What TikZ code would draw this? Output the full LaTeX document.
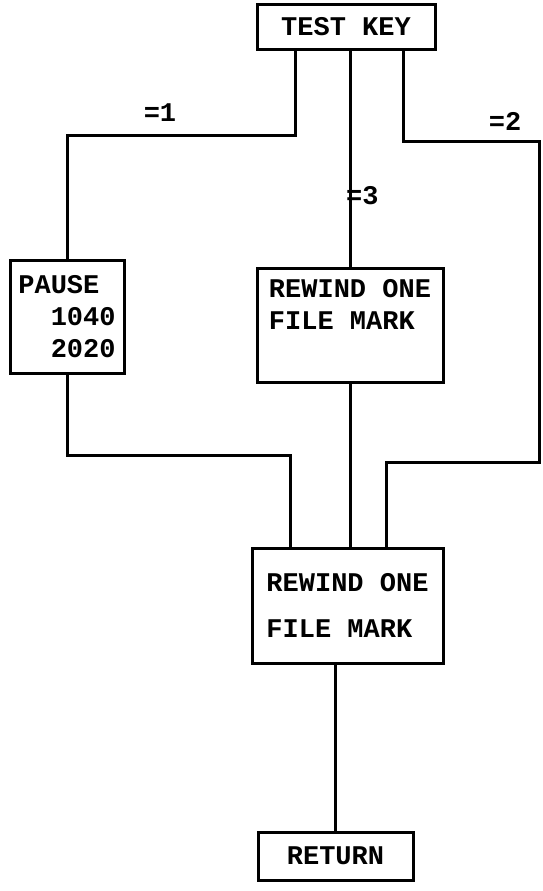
\documentclass[tikz,border=0pt]{standalone}
\usepackage{fontspec}
\newfontfamily\typewr{Liberation Mono}
\usetikzlibrary{positioning, calc}

\begin{document}
\begin{tikzpicture}[
    x=1pt, y=-1pt,
    stepbox/.style={draw, line width=3pt, inner sep=0pt, align=left,
                    font=\typewr\bfseries\fontsize{27}{32}\selectfont},
    flow/.style={line width=3pt},
    lbl/.style={font=\typewr\bfseries\fontsize{27}{32}\selectfont, inner sep=0pt}
]
    \useasboundingbox (0,0) rectangle (543,891);

    % Boxes
    \node[stepbox, minimum width=178pt, minimum height=45pt] (testkey) at (346,27) {TEST KEY};
    \node[stepbox, minimum width=114pt, minimum height=113pt] (pause) at (67,316.5)
        {PAUSE\\\phantom{PA}1040\\\phantom{PA}2020};
    \node[stepbox, minimum width=186pt, minimum height=114pt] (rew1) at (350,325)
        {REWIND ONE\\FILE MARK\\\strut};
    \node[stepbox, minimum width=191pt, minimum height=115pt] (rew2) at (347.5,605.5)
        {REWIND ONE\\[14pt]FILE MARK};
    \node[stepbox, minimum width=155pt, minimum height=48pt] (ret) at (335.5,856) {RETURN};

    % Branch points
    \coordinate (k1) at (295,135);
    \coordinate (k2) at (403,141);
    \coordinate (k2e) at (539,141);
    \coordinate (m1) at (290,455);
    \coordinate (m2) at (386,462);

    % Connecting lines
    \draw[flow] (k1 |- testkey.south) -- (k1) -| (pause.north);
    \draw[flow] (testkey.south -| rew1.north) -- (rew1.north);
    \draw[flow] (k2 |- testkey.south) -- (k2) -- (k2e) |- (m2) -- (m2 |- rew2.north);
    \draw[flow] (pause.south) |- (m1) -- (m1 |- rew2.north);
    \draw[flow] (rew1.south) -- (rew1.south |- rew2.north);
    \draw[flow] (rew2.south -| ret.north) -- (ret.north);

    % Key values
    \node[lbl] (lbl1) at (160,113) {=1};
    \node[lbl] (lbl2) at (505,121) {=2};
    \node[lbl, anchor=west] (lbl3) at (346,196) {=3};
\end{tikzpicture}
\end{document}
